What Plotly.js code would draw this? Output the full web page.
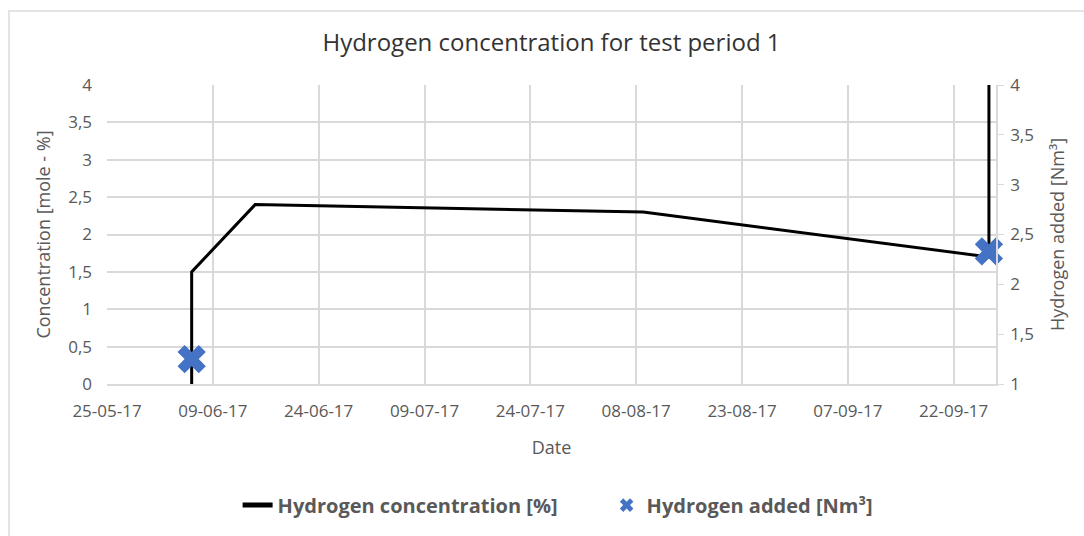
<!DOCTYPE html>
<html>
<head>
<meta charset="utf-8">
<script src="https://cdn.plot.ly/plotly-3.0.1.min.js"></script>
<style>
  body { margin: 0; overflow: hidden; background: #ffffff; }
  #frame { position: absolute; left: 8px; top: 10px; width: 1100px; height: 560px;
           border: 2px solid #e3e3e3; box-sizing: border-box; }
  #chart { position: absolute; left: 0; top: 0; width: 1084px; height: 536px; }
</style>
</head>
<body>
<div id="frame"></div>
<div id="chart"></div>
<script>
//--------------------------------------- data -----------------------------------------------
var conc_dates = ['2017-06-06', '2017-06-06', '2017-06-15', '2017-08-09', '2017-09-27', '2017-09-27'];
var conc_values = [0.0, 1.5, 2.4, 2.3, 1.7, 4.0];

var added_dates = ['2017-06-06', '2017-09-27'];
var added_values = [1.25, 2.33];

var tick_dates = ['2017-05-25', '2017-06-09', '2017-06-24', '2017-07-09', '2017-07-24',
                  '2017-08-08', '2017-08-23', '2017-09-07', '2017-09-22'];
var tick_labels = ['25-05-17', '09-06-17', '24-06-17', '09-07-17', '24-07-17',
                   '08-08-17', '23-08-17', '07-09-17', '22-09-17'];

//--------------------------------------- style -----------------------------------------------
var text_grey = '#595959';
var grid_grey = '#d9d9d9';

var tick_font = { family: "'Open Sans', sans-serif", size: 17, color: text_grey };
var axis_title_font = { family: "'Open Sans', sans-serif", size: 18, color: text_grey };

var trend_concentration = {
  x: conc_dates,
  y: conc_values,
  type: 'scatter',
  mode: 'lines',
  name: 'Hydrogen concentration [%]',
  line: { color: '#000000', width: 3 },
  cliponaxis: true
};

var trend_added = {
  x: added_dates,
  y: added_values,
  yaxis: 'y2',
  type: 'scatter',
  mode: 'markers',
  name: 'Hydrogen added [Nm³]',
  marker: {
    symbol: 'x',
    size: 25,
    color: '#4472C4',
    line: { width: 0 }
  },
  cliponaxis: false
};

var layout = {
  title: {
    text: 'Hydrogen concentration for test period 1',
    font: { family: "'Open Sans', sans-serif", size: 24, color: '#333333' },
    x: 0.5,
    xref: 'paper',
    y: 0.92,
    yref: 'container',
    yanchor: 'middle'
  },
  separators: ',.',
  width: 1084,
  height: 536,
  margin: { t: 85, r: 88, l: 107, b: 149 },
  paper_bgcolor: 'rgba(0,0,0,0)',
  plot_bgcolor: 'rgba(0,0,0,0)',
  showlegend: true,
  xaxis: {
    type: 'date',
    range: ['2017-05-25', '2017-09-28'],
    tickmode: 'array',
    tickvals: tick_dates,
    ticktext: tick_labels,
    tickfont: tick_font,
    ticklabelstandoff: 11,
    gridcolor: grid_grey,
    gridwidth: 1.5,
    showline: true,
    linecolor: grid_grey,
    linewidth: 1.5,
    ticks: '',
    zeroline: false,
    title: { text: 'Date', font: axis_title_font, standoff: 20 }
  },
  yaxis: {
    range: [0, 4],
    dtick: 0.5,
    tickfont: tick_font,
    ticklabelstandoff: 14,
    gridcolor: grid_grey,
    gridwidth: 1.5,
    zeroline: false,
    ticks: '',
    title: { text: 'Concentration [mole - %]', font: axis_title_font, standoff: 12 }
  },
  yaxis2: {
    range: [1, 4],
    dtick: 0.5,
    overlaying: 'y',
    side: 'right',
    showgrid: false,
    zeroline: false,
    showline: true,
    linecolor: grid_grey,
    linewidth: 1.5,
    ticks: 'outside',
    ticklen: 6,
    tickcolor: grid_grey,
    tickfont: tick_font,
    ticklabelstandoff: 3,
    title: { text: 'Hydrogen added [Nm³]', font: axis_title_font, standoff: 18 }
  },
  legend: {
    orientation: 'h',
    x: 0.562,
    xanchor: 'center',
    y: -0.405,
    yanchor: 'middle',
    entrywidth: 324,
    itemsizing: 'constant',
    font: { family: "'Open Sans', sans-serif", size: 20, color: text_grey, weight: 'bold' }
  }
};

Plotly.newPlot('chart', [trend_concentration, trend_added], layout, { displayModeBar: false });
</script>
</body>
</html>
